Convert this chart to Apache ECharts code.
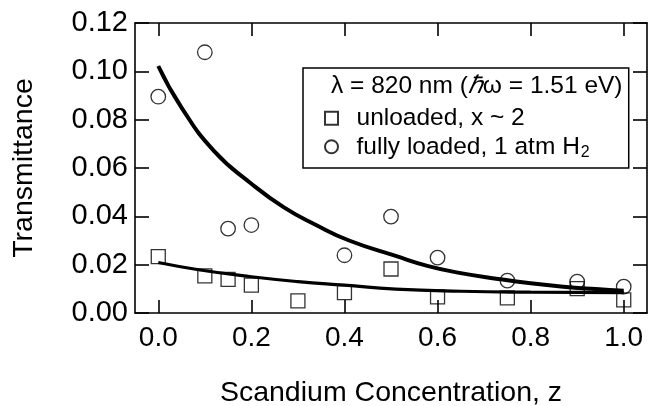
<!DOCTYPE html>
<html>
<head>
<meta charset="utf-8">
<script src="https://cdn.jsdelivr.net/npm/echarts@6/dist/echarts.min.js"></script>
<style>
html,body{margin:0;padding:0;background:#fff;}
#chart{width:649px;height:406px;}
</style>
</head>
<body>
<div id="chart"></div>
<script>
// ---- data ----
var xTicks = [0.0, 0.2, 0.4, 0.6, 0.8, 1.0];
var yTicks = [0.00, 0.02, 0.04, 0.06, 0.08, 0.10, 0.12];

var unloadedZ = [0.0, 0.1, 0.15, 0.2, 0.3, 0.4, 0.5, 0.6, 0.75, 0.9, 1.0];
var unloadedT = [0.0233, 0.0154, 0.0139, 0.0115, 0.0050, 0.0084, 0.0182, 0.0067, 0.0063, 0.0101, 0.0054];

var loadedZ = [0.0, 0.1, 0.15, 0.2, 0.4, 0.5, 0.6, 0.75, 0.9, 1.0];
var loadedT = [0.0895, 0.1079, 0.0349, 0.0364, 0.0239, 0.0399, 0.0229, 0.0134, 0.0130, 0.0109];

var fitLoadedZ = [0.0, 0.05, 0.12, 0.2, 0.27, 0.34, 0.41, 0.51, 0.58, 0.65, 0.73, 0.8, 0.87, 0.94, 1.0];
var fitLoadedT = [0.1022, 0.0850, 0.0670, 0.0535, 0.0437, 0.0363, 0.0300, 0.0236, 0.0194, 0.0165, 0.0141, 0.0123, 0.0109, 0.0099, 0.0092];

var fitUnloadedZ = [0.0, 0.09, 0.2, 0.3, 0.4, 0.51, 0.65, 0.8, 1.0];
var fitUnloadedT = [0.0209, 0.0178, 0.0150, 0.0130, 0.0115, 0.0099, 0.0090, 0.0086, 0.0084];

var legendUnloaded = 'unloaded, x ~ 2';
var legendLoaded = 'fully loaded, 1 atm H₂';
var xTitle = 'Scandium Concentration, z';
var yTitle = 'Transmittance';

function zip(a, b) { return a.map(function (v, i) { return [v, b[i]]; }); }

var chart = echarts.init(document.getElementById('chart'), null, {renderer: 'canvas'});
var FONT = '"Liberation Sans", Arial, Helvetica, sans-serif';
var axisLineStyle = {color: '#000', width: 1.6};
var tickStyle = {color: '#000', width: 1.6};

var option = {
  backgroundColor: '#fff',
  animation: false,
  textStyle: {fontFamily: FONT, color: '#000'},
  title: {
    text: 'λ = 820 nm ({i|ℏ}ω = 1.51 eV)',
    left: 331,
    top: 72,
    padding: 0,
    textStyle: {
      fontFamily: FONT, fontSize: 24.5, fontWeight: 'normal', color: '#000', lineHeight: 28,
      rich: {i: {fontFamily: FONT, fontSize: 24.5, fontStyle: 'italic', color: '#000', lineHeight: 28}}
    }
  },
  legend: {
    orient: 'vertical',
    left: 303,
    top: 68,
    padding: [36, 39, 7, 21],
    itemGap: 0,
    itemWidth: 40,
    itemHeight: 13,
    borderColor: '#000',
    borderWidth: 1.5,
    symbolKeepAspect: true,
    data: [
      {name: legendUnloaded, icon: 'path://M0,0L10,0L10,10L0,10Z'},
      {name: legendLoaded, icon: 'path://M10,5A5,5,0,1,1,0,5A5,5,0,1,1,10,5Z'}
    ],
    formatter: function (name) {
      if (name === legendLoaded) return 'fully loaded, 1 atm H{sub|2}';
      return name;
    },
    textStyle: {
      fontFamily: FONT, fontSize: 24.5, color: '#000', lineHeight: 28.5,
      rich: {sub: {fontFamily: FONT, fontSize: 16, color: '#000', padding: [12, 0, 0, 1]}}
    }
  },
  grid: {left: 135, right: 2, top: 23, bottom: 93, containLabel: false, outerBoundsMode: 'none'},
  xAxis: [{
    type: 'value', min: -0.05, max: 1.05,
    name: xTitle, nameLocation: 'middle', nameGap: 66,
    nameTextStyle: {fontFamily: FONT, fontSize: 28.5, color: '#000'},
    axisLine: {show: true, onZero: false, lineStyle: axisLineStyle},
    axisTick: {show: true, inside: true, length: 13, lineStyle: tickStyle, customValues: xTicks},
    axisLabel: {show: true, margin: 11, fontFamily: FONT, fontSize: 28, color: '#000',
      customValues: xTicks, formatter: function (v) { return v.toFixed(1); }},
    splitLine: {show: false}
  }, {
    type: 'value', min: -0.05, max: 1.05, position: 'top',
    axisLine: {show: true, onZero: false, lineStyle: axisLineStyle},
    axisTick: {show: true, inside: true, length: 13, lineStyle: tickStyle, customValues: xTicks},
    axisLabel: {show: false},
    splitLine: {show: false}
  }],
  yAxis: [{
    type: 'value', min: 0, max: 0.12, interval: 0.02,
    name: yTitle, nameLocation: 'middle', nameGap: 96, nameRotate: 90,
    nameTextStyle: {fontFamily: FONT, fontSize: 28.5, color: '#000'},
    axisLine: {show: true, onZero: false, lineStyle: axisLineStyle},
    axisTick: {show: true, inside: true, length: 14, lineStyle: tickStyle},
    axisLabel: {show: true, margin: 7, fontFamily: FONT, fontSize: 29, color: '#000',
      formatter: function (v) { return v.toFixed(2); }},
    splitLine: {show: false}
  }, {
    type: 'value', min: 0, max: 0.12, interval: 0.02, position: 'right',
    axisLine: {show: true, onZero: false, lineStyle: axisLineStyle},
    axisTick: {show: true, inside: true, length: 14, lineStyle: tickStyle},
    axisLabel: {show: false},
    splitLine: {show: false}
  }],
  series: [
    {
      name: legendUnloaded, type: 'scatter', data: zip(unloadedZ, unloadedT),
      symbol: 'rect', symbolSize: 14,
      itemStyle: {color: 'rgba(255,255,255,0)', borderColor: '#000', borderWidth: 1.3},
      z: 3
    },
    {
      name: legendLoaded, type: 'scatter', data: zip(loadedZ, loadedT),
      symbol: 'circle', symbolSize: 14.5,
      itemStyle: {color: 'rgba(255,255,255,0)', borderColor: '#000', borderWidth: 1.3},
      z: 3
    },
    {
      name: 'fit loaded', type: 'line', data: zip(fitLoadedZ, fitLoadedT),
      smooth: 0.5, showSymbol: false, symbol: 'none',
      lineStyle: {color: '#000', width: 4}, z: 4, silent: true
    },
    {
      name: 'fit unloaded', type: 'line', data: zip(fitUnloadedZ, fitUnloadedT),
      smooth: 0.5, showSymbol: false, symbol: 'none',
      lineStyle: {color: '#000', width: 3.2}, z: 4, silent: true
    }
  ]
};
chart.setOption(option);
</script>
</body>
</html>
